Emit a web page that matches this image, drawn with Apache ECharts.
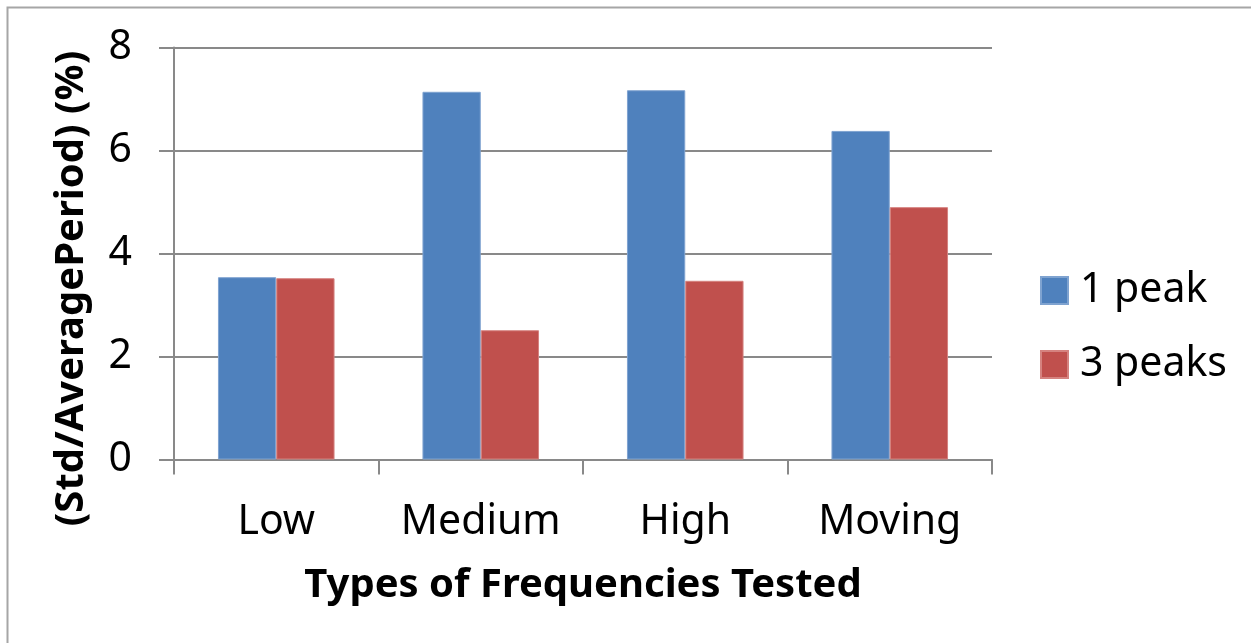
<!DOCTYPE html>
<html>
<head>
<meta charset="utf-8">
<script src="https://cdn.jsdelivr.net/npm/echarts@6/dist/echarts.min.js"></script>
<style>html,body{margin:0;padding:0;background:#fff;}#c{width:1251px;height:643px;}</style>
</head>
<body>
<div id="c"></div>
<script>
const categories = ['Low', 'Medium', 'High', 'Moving'];
const onePeak = [3.54, 7.14, 7.17, 6.38];
const threePeaks = [3.52, 2.51, 3.47, 4.90];
const seriesNames = ['1 peak', '3 peaks'];
const yTicks = { min: 0, max: 8, interval: 2 };
const xTitle = 'Types of Frequencies Tested';
const yTitle = '(Std/AveragePeriod) (%)';

const FONT = '"Noto Sans", "Open Sans", sans-serif';
const chart = echarts.init(document.getElementById('c'));
chart.setOption({
  animation: false,
  backgroundColor: '#ffffff',
  graphic: [{
    type: 'rect', left: 5, top: 5,
    shape: { x: 0, y: 0, width: 1300, height: 700 },
    style: { fill: 'none', stroke: '#a6a6a6', lineWidth: 2 }
  }],
  grid: { left: 174, right: 259, top: 47.5, bottom: 183.5, containLabel: false },
  legend: {
    orient: 'vertical', left: 1035, top: 265,
    itemWidth: 27, itemHeight: 27, itemGap: 33,
    icon: 'rect',
    textStyle: { fontFamily: FONT, fontSize: 41, color: '#000', lineHeight: 41, padding: [0, 0, 0, 7] },
    data: seriesNames
  },
  xAxis: {
    type: 'category', data: categories,
    axisLine: { lineStyle: { color: '#898989', width: 2 } },
    axisTick: { show: true, interval: 0, length: 15, alignWithLabel: false, lineStyle: { color: '#898989', width: 2 } },
    axisLabel: { interval: 0, fontFamily: FONT, fontSize: 41, color: '#000', margin: 42 },
    name: xTitle, nameLocation: 'middle', nameGap: 106,
    nameTextStyle: { fontFamily: FONT, fontSize: 40, fontWeight: 'bold', color: '#000' }
  },
  yAxis: {
    type: 'value', min: yTicks.min, max: yTicks.max, interval: yTicks.interval,
    axisLine: { show: true, lineStyle: { color: '#898989', width: 2 } },
    axisTick: { show: true, length: 15, lineStyle: { color: '#898989', width: 2 } },
    splitLine: { show: true, lineStyle: { color: '#898989', width: 2 } },
    axisLabel: { fontFamily: FONT, fontSize: 41, color: '#000', margin: 42 },
    name: yTitle, nameLocation: 'middle', nameGap: 82, nameRotate: 90,
    nameTextStyle: { fontFamily: FONT, fontSize: 40, fontWeight: 'bold', color: '#000', padding: [0, 70, 0, 0] }
  },
  series: [
    { name: seriesNames[0], type: 'bar', data: onePeak, barGap: '0%', barCategoryGap: '43%',
      itemStyle: { color: '#4f81bd', borderColor: '#7fa3d0', borderWidth: 1 } },
    { name: seriesNames[1], type: 'bar', data: threePeaks, barGap: '0%', barCategoryGap: '43%',
      itemStyle: { color: '#c0504d', borderColor: '#d5827f', borderWidth: 1 } }
  ]
});
</script>
</body>
</html>
